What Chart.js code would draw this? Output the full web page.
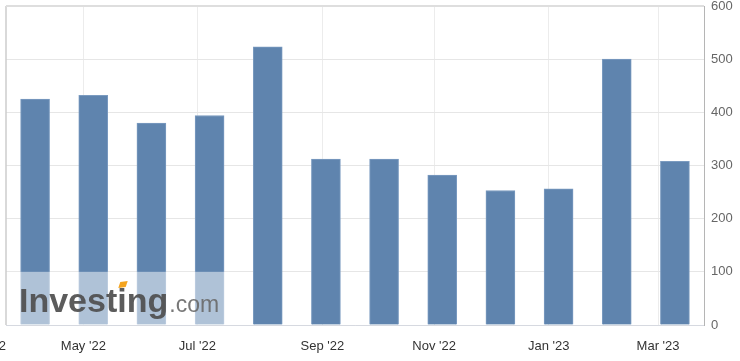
<!DOCTYPE html>
<html lang="en">
<head>
  <meta charset="UTF-8">
  <title>Monthly values</title>
  <script src="https://cdn.jsdelivr.net/npm/chart.js"></script>
  <style>
    body { margin: 0; background: #fff; }
  </style>
</head>
<body>
  <canvas id="bar-chart" width="740" height="361"></canvas>

  <script>
    // one bar per month, Apr '22 .. Mar '23
    const months = ['Apr 22', 'May 22', 'Jun 22', 'Jul 22', 'Aug 22', 'Sep 22',
                    'Oct 22', 'Nov 22', 'Dec 22', 'Jan 23', 'Feb 23', 'Mar 23'];
    const values = [425, 432, 380, 394, 523, 312, 312, 282, 253, 256, 500, 308];

    // x tick marks sit between bars (ordinal axis), in bar-index units
    const tickPos = [-0.87, 0.83, 2.79, 4.94, 6.86, 8.83, 10.71];
    const tickLabels = ["Mar '22", "May '22", "Jul '22", "Sep '22", "Nov '22", "Jan '23", "Mar '23"];

    const yMin = 0;
    const yMax = 600;
    const yStep = 100;

    const FONT = 'Arial, "Liberation Sans", sans-serif';

    // frame + investing.com watermark
    const frameAndLogo = {
      id: 'frameAndLogo',
      beforeDatasetsDraw(chart) {
        const { ctx, chartArea: a } = chart;
        ctx.save();
        ctx.strokeStyle = '#cccccc';
        ctx.lineWidth = 1.5;
        ctx.beginPath();
        ctx.moveTo(a.left, a.bottom);
        ctx.lineTo(a.left, a.top);
        ctx.stroke();
        ctx.strokeStyle = '#dedede';
        ctx.lineWidth = 2;
        ctx.beginPath();
        ctx.moveTo(a.left, a.top);
        ctx.lineTo(a.right, a.top);
        ctx.stroke();
        ctx.restore();
      },
      afterDatasetsDraw(chart) {
        const { ctx, chartArea: a } = chart;
        const y100 = chart.scales.y.getPixelForValue(100);
        ctx.save();
        ctx.fillStyle = 'rgba(255,255,255,0.5)';
        ctx.fillRect(a.left + 1, y100, 222, a.bottom - y100);

        const base = 312;
        ctx.textBaseline = 'alphabetic';
        ctx.font = 'bold 34px ' + FONT;
        ctx.fillStyle = 'rgba(78,78,78,0.92)';
        ctx.fillText('Investing', 19, base);
        const wInv = ctx.measureText('Investing').width;
        const wPre = ctx.measureText('Invest').width;
        const wI = ctx.measureText('i').width;

        // orange slanted dot on the "i"
        const ix = 19 + wPre;
        ctx.fillStyle = '#f4a41f';
        ctx.beginPath();
        ctx.moveTo(ix + 1, base - 24);
        ctx.lineTo(ix + wI - 1, base - 25);
        ctx.lineTo(ix + wI + 1, base - 31);
        ctx.lineTo(ix + 3, base - 30);
        ctx.closePath();
        ctx.fill();

        ctx.font = '23px ' + FONT;
        ctx.fillStyle = 'rgba(105,105,105,0.9)';
        ctx.fillText('.com', 19 + wInv + 1, base);
        ctx.restore();
      }
    };

    const ctx = document.getElementById('bar-chart').getContext('2d');

    new Chart(ctx, {
      type: 'bar',
      data: {
        labels: months,
        datasets: [{
          label: 'Value',
          data: values.map((v, i) => ({ x: i, y: v })),
          backgroundColor: '#5f84ae',
          borderColor: '#7b9bc0',
          borderWidth: 1,
          barThickness: 29,
        }]
      },
      options: {
        responsive: false,
        animation: false,
        layout: {
          padding: { left: 6, top: 6, right: 0, bottom: 0 }
        },
        plugins: {
          legend: { display: false },
          tooltip: { enabled: false }
        },
        scales: {
          x: {
            type: 'linear',
            min: -0.5,
            max: 11.5,
            offset: false,
            grid: {
              offset: false,
              color: '#ececec',
              drawTicks: false,
            },
            border: { color: '#d6d9e0' },
            afterBuildTicks: (axis) => {
              axis.ticks = tickPos.map(v => ({ value: v }));
            },
            afterFit: (axis) => {
              axis.height = 36;
              axis.paddingLeft = 0;
              axis.paddingRight = 0;
            },
            ticks: {
              autoSkip: false,
              maxRotation: 0,
              padding: 14,
              color: '#333',
              font: { family: FONT, size: 13 },
              callback: (value, index) => tickLabels[index],
            }
          },
          y: {
            position: 'right',
            min: yMin,
            max: yMax,
            grid: {
              color: '#e6e6e6',
              drawTicks: false,
            },
            border: { color: '#b5b5b5' },
            afterFit: (axis) => {
              axis.width = 36;
              axis.paddingTop = 0;
              axis.paddingBottom = 0;
            },
            ticks: {
              stepSize: yStep,
              padding: 7,
              color: '#666',
              font: { family: FONT, size: 13 },
            }
          }
        }
      },
      plugins: [frameAndLogo]
    });
  </script>
</body>
</html>
